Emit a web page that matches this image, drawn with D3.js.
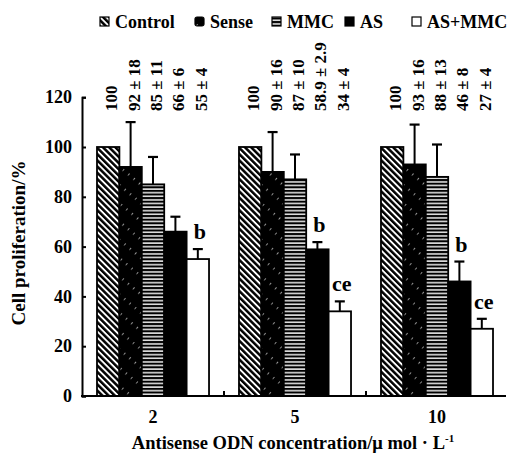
<!DOCTYPE html>
<html>
<head>
<meta charset="utf-8">
<script src="https://cdn.jsdelivr.net/npm/d3@7"></script>
<style>
  body { margin: 0; background: white; }
  svg text { font-family: "Liberation Serif", "Times New Roman", "DejaVu Serif", serif !important; font-weight: bold; fill: black; }
</style>
</head>
<body>
<div id="Canvas"></div>
<script>
// data
const concentrations = ["2", "5", "10"]
const series = ["Control", "Sense", "MMC", "AS", "AS+MMC"]
const means = [
  [100, 92, 85, 66, 55],
  [100, 90, 87, 58.9, 34],
  [100, 93, 88, 46, 27]
]
const errs = [
  [0, 18, 11, 6, 4],
  [0, 16, 10, 2.9, 4],
  [0, 16, 13, 8, 4]
]
const labels = [
  ["100", "92 ± 18", "85 ± 11", "66 ± 6", "55 ± 4"],
  ["100", "90 ± 16", "87 ± 10", "58.9 ± 2.9", "34 ± 4"],
  ["100", "93 ± 16", "88 ± 13", "46 ± 8", "27 ± 4"]
]
const letters = [
  ["", "", "", "", "b"],
  ["", "", "", "b", "ce"],
  ["", "", "", "b", "ce"]
]
const yTicks = [0, 20, 40, 60, 80, 100, 120]

let svg = d3.select("#Canvas").append("svg")
  .attr("width", 507).attr("height", 463)
  .style("background", "white")

// patterns
let defs = svg.append("defs")
let p1 = defs.append("pattern").attr("id", "pat_control")
  .attr("patternUnits", "userSpaceOnUse").attr("width", 4.4).attr("height", 10)
  .attr("patternTransform", "rotate(-45)")
p1.append("rect").attr("width", 4.4).attr("height", 10).attr("fill", "white")
p1.append("rect").attr("width", 2.5).attr("height", 10).attr("fill", "black")

let p2 = defs.append("pattern").attr("id", "pat_sense")
  .attr("patternUnits", "userSpaceOnUse").attr("width", 7).attr("height", 14)
  .attr("patternTransform", "rotate(40)")
p2.append("rect").attr("width", 7).attr("height", 14).attr("fill", "black")
p2.append("line").attr("x1", 3.5).attr("y1", 0).attr("x2", 3.5).attr("y2", 2.5)
  .attr("stroke", "white").attr("stroke-width", 0.8).attr("opacity", 0.75)

let p3 = defs.append("pattern").attr("id", "pat_mmc")
  .attr("patternUnits", "userSpaceOnUse").attr("width", 30).attr("height", 3.6)
p3.append("rect").attr("width", 30).attr("height", 3.6).attr("fill", "black")
p3.append("rect").attr("y", 1.2).attr("width", 30).attr("height", 1.4).attr("fill", "white")

const fills = ["url(#pat_control)", "url(#pat_sense)", "url(#pat_mmc)", "black", "white"]

// scales
let x0 = d3.scaleBand().domain(concentrations).range([82, 508])
  .paddingInner(0.211).paddingOuter(0.1056)
let x1 = d3.scaleBand().domain(series).range([0, x0.bandwidth()])
let y = d3.scaleLinear().domain([0, 120]).range([396, 97.2])

// bars
let groups = svg.append("g").selectAll("g")
  .data(concentrations).enter().append("g")
  .attr("transform", d => "translate(" + x0(d) + ",0)")

groups.each(function(c, gi) {
  let g = d3.select(this)
  let rows = series.map((s, si) => ({
    s: s, v: means[gi][si], e: errs[gi][si], lab: labels[gi][si], let: letters[gi][si], fill: fills[si]
  }))
  // error bars (behind bars)
  g.selectAll(".err").data(rows.filter(r => r.e > 0)).enter()
    .append("line").attr("class", "err")
    .attr("x1", r => x1(r.s) + x1.bandwidth() / 2).attr("x2", r => x1(r.s) + x1.bandwidth() / 2)
    .attr("y1", r => y(r.v)).attr("y2", r => y(r.v + r.e))
    .attr("stroke", "black").attr("stroke-width", 2)
  g.selectAll(".cap").data(rows.filter(r => r.e > 0)).enter()
    .append("line").attr("class", "cap")
    .attr("x1", r => x1(r.s) + x1.bandwidth() / 2 - 5).attr("x2", r => x1(r.s) + x1.bandwidth() / 2 + 5)
    .attr("y1", r => y(r.v + r.e)).attr("y2", r => y(r.v + r.e))
    .attr("stroke", "black").attr("stroke-width", 2.2)
  g.selectAll("rect").data(rows).enter().append("rect")
    .attr("x", r => x1(r.s)).attr("width", x1.bandwidth())
    .attr("y", r => y(r.v)).attr("height", r => y(0) - y(r.v))
    .attr("fill", r => r.fill)
    .attr("stroke", "black").attr("stroke-width", 1.8)
  // value labels, vertical
  g.selectAll(".vlab").data(rows).enter().append("text").attr("class", "vlab")
    .attr("transform", r => "translate(" + (x1(r.s) + x1.bandwidth() / 2 + 3) + ",111) rotate(-90)")
    .attr("dy", "0.35em")
    .style("font-size", "17px")
    .text(r => r.lab)
  // significance letters
  g.selectAll(".sig").data(rows.filter(r => r.let !== "")).enter().append("text").attr("class", "sig")
    .attr("x", r => x1(r.s) + x1.bandwidth() / 2 + 2)
    .attr("y", r => y(r.v + r.e) - 10)
    .attr("text-anchor", "middle")
    .style("font-size", "22px")
    .text(r => r.let)
})

// y axis
let Y_axis = d3.axisLeft(y).tickValues(yTicks).tickSize(-4).tickPadding(10)
let gy = svg.append("g").attr("transform", "translate(82,0)").call(Y_axis)
gy.attr("font-family", null)
gy.select(".domain").attr("stroke-width", 2)
gy.selectAll(".tick line").attr("stroke-width", 2)
gy.selectAll("text").style("font-size", "18px")

// x axis
let X_axis = d3.axisBottom(x0).tickSize(0).tickPadding(14)
let gx = svg.append("g").attr("transform", "translate(0,396)").call(X_axis)
gx.attr("font-family", null)
gx.select(".domain").remove()
gx.selectAll("text").style("font-size", "18px")
svg.append("line").attr("x1", 81).attr("x2", 506).attr("y1", 396).attr("y2", 396)
  .attr("stroke", "black").attr("stroke-width", 2.2)
svg.append("g").selectAll("line").data(concentrations.slice(1)).enter().append("line")
  .attr("x1", d => x0(d) - x0.step() * x0.paddingInner() / 2)
  .attr("x2", d => x0(d) - x0.step() * x0.paddingInner() / 2)
  .attr("y1", 396).attr("y2", 391)
  .attr("stroke", "black").attr("stroke-width", 2)

// axis titles
svg.append("text")
  .attr("transform", "translate(25,243) rotate(-90)")
  .attr("text-anchor", "middle")
  .style("font-size", "19px")
  .text("Cell proliferation/%")
let xt = svg.append("text").attr("x", 293).attr("y", 449)
  .attr("text-anchor", "middle").style("font-size", "18.5px")
xt.append("tspan").text("Antisense ODN concentration/\u03bc mol · L")
xt.append("tspan").attr("dy", -7).style("font-size", "11px").text("-1")

// legend
let legX = [100, 195, 272, 345, 412]
let leg = svg.append("g").selectAll("g").data(series).enter().append("g")
  .attr("transform", (d, i) => "translate(" + legX[i] + ",22)")
leg.append("rect").attr("x", 0).attr("y", -5).attr("width", 9).attr("height", 9)
  .attr("fill", (d, i) => fills[i]).attr("stroke", "black").attr("stroke-width", 1.2)
  .attr("rx", (d, i) => i === 1 ? 2 : 0)
leg.append("text").attr("x", 15).attr("y", 0).attr("dy", "0.35em")
  .style("font-size", "18px").text(d => d)
</script>
</body>
</html>
